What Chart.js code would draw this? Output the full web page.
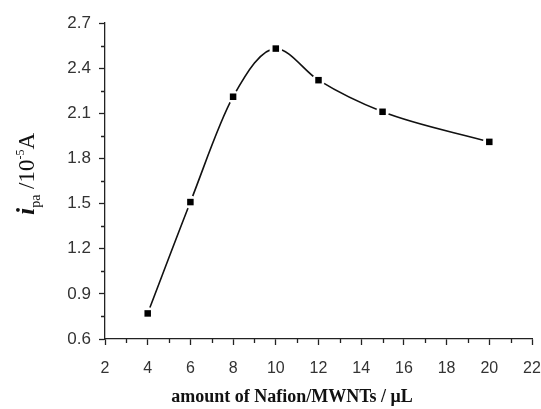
<!DOCTYPE html>
<html>
<head>
<meta charset="utf-8">
<script src="https://cdn.jsdelivr.net/npm/chart.js@4/dist/chart.umd.min.js"></script>
<style>
  html, body { margin: 0; padding: 0; background: #fff; }
  #wrap { width: 541px; height: 409px; }
</style>
</head>
<body>
<div id="wrap"><canvas id="chart"></canvas></div>
<script>
// amount of Nafion/MWNTs (uL) vs peak current (10^-5 A)
var amounts = [4, 6, 8, 10, 12, 15, 20];
var currents = [0.77, 1.51, 2.21, 2.53, 2.32, 2.11, 1.91];
var xTicks = [2, 4, 6, 8, 10, 12, 14, 16, 18, 20, 22];
var yTicks = [0.6, 0.9, 1.2, 1.5, 1.8, 2.1, 2.4, 2.7];

var pts = amounts.map(function (x, i) { return { x: x, y: currents[i] }; });

// minor ticks + axis titles
var extras = {
  id: 'extras',
  afterDraw: function (chart) {
    var ctx = chart.ctx;
    var xs = chart.scales.x, ys = chart.scales.y;
    var ca = chart.chartArea;
    ctx.save();
    ctx.strokeStyle = '#222';
    ctx.lineWidth = 1.3;
    ctx.beginPath();
    for (var i = 0; i < xTicks.length - 1; i++) {
      var px = Math.round(xs.getPixelForValue(xTicks[i] + 1)) + 0.5;
      ctx.moveTo(px, ca.bottom);
      ctx.lineTo(px, ca.bottom + 4);
    }
    for (var j = 0; j < yTicks.length - 1; j++) {
      var py = Math.round(ys.getPixelForValue(yTicks[j] + 0.15)) + 0.5;
      ctx.moveTo(ca.left, py);
      ctx.lineTo(ca.left - 4, py);
    }
    ctx.stroke();

    // x title
    ctx.fillStyle = '#111';
    ctx.font = 'bold 18px "Liberation Serif", serif';
    ctx.textAlign = 'center';
    ctx.textBaseline = 'alphabetic';
    ctx.fillText('amount of Nafion/MWNTs / \u03bcL', 292, 402);

    // y title, rotated
    ctx.translate(34, 174);
    ctx.rotate(-Math.PI / 2);
    var parts = [
      { t: 'i', f: 'bold italic 26px "Liberation Serif", serif', dy: 0 },
      { t: 'pa', f: '14px "Liberation Serif", serif', dy: 6 },
      { t: ' /10', f: '23px "Liberation Serif", serif', dy: 0 },
      { t: '-5', f: '12px "Liberation Serif", serif', dy: -10 },
      { t: 'A', f: '23px "Liberation Serif", serif', dy: 0 }
    ];
    var total = 0;
    parts.forEach(function (p) { ctx.font = p.f; p.w = ctx.measureText(p.t).width; total += p.w; });
    var cx = -total / 2;
    ctx.textAlign = 'left';
    parts.forEach(function (p) {
      ctx.font = p.f;
      ctx.fillText(p.t, cx, p.dy);
      cx += p.w;
    });
    ctx.restore();
  }
};

new Chart(document.getElementById('chart'), {
  type: 'line',
  data: {
    datasets: [
      {
        // black square markers, on top
        data: pts,
        showLine: false,
        pointStyle: 'rect',
        pointRadius: 4.6,
        pointBackgroundColor: '#000',
        pointBorderWidth: 0,
        order: 0
      },
      {
        // curve with white gaps round the markers
        data: pts,
        borderColor: '#111',
        borderWidth: 1.6,
        cubicInterpolationMode: 'monotone',
        pointStyle: 'circle',
        pointRadius: 6.5,
        pointBackgroundColor: '#fff',
        pointBorderWidth: 0,
        order: 1
      }
    ]
  },
  options: {
    responsive: true,
    maintainAspectRatio: false,
    animation: false,
    layout: { padding: { top: 23, right: 9, left: 0, bottom: 0 } },
    plugins: { legend: { display: false }, tooltip: { enabled: false } },
    scales: {
      x: {
        type: 'linear',
        min: 2, max: 22,
        afterFit: function (s) { s.height = 70; s.paddingRight = 0; },
        afterBuildTicks: function (s) { s.ticks = xTicks.map(function (v) { return { value: v }; }); },
        border: { display: true, color: '#222', width: 1.3 },
        grid: { drawOnChartArea: false, drawTicks: true, tickLength: 6, tickColor: '#222', tickWidth: 1.3 },
        ticks: { color: '#333', padding: 14, maxRotation: 0, font: { family: '"Liberation Sans", Arial, sans-serif', size: 16 } }
      },
      y: {
        type: 'linear',
        min: 0.6, max: 2.7,
        afterFit: function (s) { s.width = 105; },
        afterBuildTicks: function (s) { s.ticks = yTicks.map(function (v) { return { value: v }; }); },
        border: { display: true, color: '#222', width: 1.3 },
        grid: { drawOnChartArea: false, drawTicks: true, tickLength: 6, tickColor: '#222', tickWidth: 1.3 },
        ticks: {
          color: '#333', padding: 8,
          font: { family: '"Liberation Sans", Arial, sans-serif', size: 17 },
          callback: function (v) { return v.toFixed(1); }
        }
      }
    }
  },
  plugins: [extras]
});
</script>
</body>
</html>
